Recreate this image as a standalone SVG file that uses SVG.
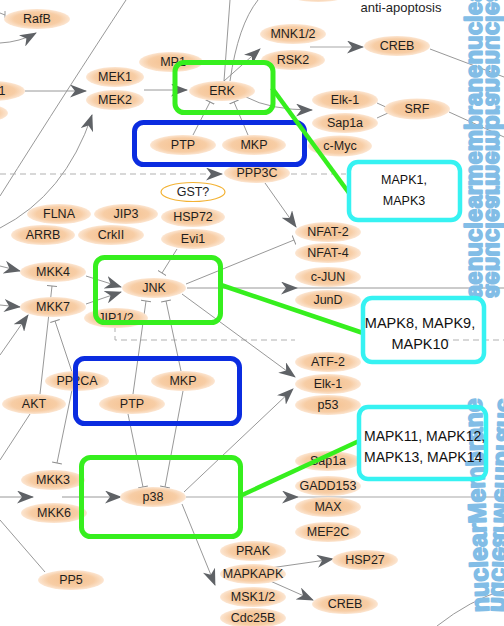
<svg xmlns="http://www.w3.org/2000/svg" width="504" height="626" viewBox="0 0 504 626">
<defs>
<radialGradient id="g" cx="50%" cy="50%" r="50%">
<stop offset="0" stop-color="#f4c08e"/>
<stop offset="0.7" stop-color="#f7cda5"/>
<stop offset="1" stop-color="#fce6d2"/>
</radialGradient>
<marker id="ar" markerUnits="userSpaceOnUse" markerWidth="17" markerHeight="13" viewBox="0 0 17 13" refX="16" refY="6.5" orient="auto">
<path d="M0,0 L17,6.5 L0,13 L5,6.5 Z" fill="#5f6266"/>
</marker>
<marker id="inh" markerUnits="userSpaceOnUse" markerWidth="3" markerHeight="10" viewBox="0 0 3 10" refX="1.5" refY="5" orient="auto">
<path d="M1.5,0 V10" stroke="#8c8c8c" stroke-width="1"/>
</marker>
</defs>
<style>
.n ellipse{fill:url(#g);}
.n text,.lbl{font-family:"Liberation Sans",Arial,sans-serif;font-size:12.5px;fill:#1e1e1e;text-anchor:middle;dominant-baseline:central;}
.c{fill:none;stroke:#8c8c8c;stroke-width:0.9;}
.a{marker-end:url(#ar);}
.i{marker-end:url(#inh);}
.d{stroke-dasharray:6 4;stroke:#a8a8a8;}
.gb{fill:none;stroke:#36ef1e;stroke-width:5;}
.bb{fill:none;stroke:#0b2ce0;stroke-width:5;}
.cb{fill:none;stroke:#36f2f2;stroke-width:4.5;}
.gl{stroke:#36ef1e;stroke-width:4.5;fill:none;}
.ct{font-family:"Liberation Sans",Arial,sans-serif;fill:#111;dominant-baseline:central;}
.mem{font-family:"Liberation Sans",Arial,sans-serif;font-weight:bold;fill:#82bde6;stroke:#82bde6;stroke-width:1.6;stroke-linejoin:round;}
</style>

<g id="connectors">
<path class="c a" d="M0 43 Q20 42 36 33"/>
<path class="c" d="M0 13 L5 15 M5 11 V18"/>
<path class="c a" d="M25 91 H86"/>
<path class="c" d="M126 0 Q70 85 0 196"/>
<path class="c a" d="M0 228 Q65 195 92 115"/>
<path class="c a" d="M144 90 H187"/>
<path class="c a" d="M224 81 L260 49"/>
<path class="c" d="M224 81 L230 0"/>
<path class="c" d="M230 81 Q238 25 258 0"/>
<path class="c a" d="M310 47 H363" style="stroke:#c4c4c4;stroke-width:1.5"/>
<path class="c a" d="M246 97 Q270 110 312 110"/>
<path class="c" d="M377 103 L388 108 M377 118 L388 113"/>
<path class="c" d="M430 49 L504 77"/>
<path class="c" d="M449 112 L504 137"/>
<path class="c i" d="M193 135 L210 102"/>
<path class="c i" d="M248 135 L234 102"/>
<path class="c d a" d="M0 174 H222"/>
<path class="c d" d="M291 174 H346"/>
<path class="c d" d="M115 326 V340 H295 M443 340 H504"/>
<path class="c a" d="M265 183 L296 227"/>
<path class="c a" d="M0 266 L20 271"/>
<path class="c a" d="M0 305 L20 307"/>
<path class="c a" d="M0 355 L28 315"/>
<path class="c a" d="M86 276 L121 287"/>
<path class="c a" d="M86 304 L121 292"/>
<path class="c i" d="M177 249 L162 273"/>
<path class="c i" d="M186 284 L294 240"/>
<path class="c a" d="M187 288 H297"/>
<path class="c" d="M297 288 H504"/>
<path class="c a" d="M182 294 L295 377"/>
<path class="c i" d="M40 394 L52 286"/>
<path class="c i" d="M72 372 L55 321"/>
<path class="c i" d="M72 390 L57 463"/>
<path class="c i" d="M133 394 L146 301"/>
<path class="c i" d="M181 371 L166 301"/>
<path class="c i" d="M128 414 L143 487"/>
<path class="c i" d="M183 391 L165 487"/>
<path class="c" d="M30 414 L0 460"/>
<path class="c" d="M0 520 L45 572"/>
<path class="c a" d="M0 497 H33"/>
<path class="c a" d="M62 497 H121"/>
<path class="c a" d="M184 492 L293 389"/>
<path class="c a" d="M186 497 H298" style="stroke:#c4c4c4;stroke-width:1.5"/>
<path class="c" d="M298 497 H504" style="stroke:#c4c4c4;stroke-width:1.5"/>
<path class="c a" d="M182 504 L215 585"/>
<path class="c a" d="M270 568 L333 559"/>
<path class="c a" d="M268 580 L313 600"/>
<path class="c" d="M437 626 Q470 600 504 590"/>
</g>

<g id="n-top" class="n"><ellipse cx="318" cy="-8" rx="33" ry="10"/></g>
<g id="n-RafB" class="n"><ellipse cx="37" cy="19" rx="33" ry="10"/><text x="37" y="19">RafB</text></g>
<g id="n-Raf1" class="n"><ellipse cx="-8" cy="91" rx="33" ry="10"/><text x="2" y="91">1</text></g>
<g id="n-left2" class="n"><ellipse cx="-24" cy="113" rx="32" ry="10"/></g>
<g id="n-MEK1" class="n"><ellipse cx="115" cy="77" rx="29" ry="10"/><text x="115" y="77">MEK1</text></g>
<g id="n-MEK2" class="n"><ellipse cx="115" cy="100" rx="29" ry="10"/><text x="115" y="100">MEK2</text></g>
<g id="n-MP1" class="n"><ellipse cx="171" cy="62" rx="32" ry="10"/><text x="173" y="62">MP1</text></g>
<g id="n-ERK" class="n"><ellipse cx="222" cy="91" rx="33" ry="10"/><text x="222" y="91">ERK</text></g>
<g id="n-PTP1" class="n"><ellipse cx="183" cy="145" rx="33" ry="10"/><text x="183" y="145">PTP</text></g>
<g id="n-MKP1" class="n"><ellipse cx="254" cy="145" rx="32" ry="10"/><text x="254" y="145">MKP</text></g>
<g id="n-PPP3C" class="n"><ellipse cx="257" cy="173" rx="33" ry="10"/><text x="257" y="173">PPP3C</text></g>
<g id="n-GST" class="n"><ellipse cx="193" cy="192" rx="32" ry="9.5" style="fill:#fff;stroke:#f3b233;stroke-width:1.2"/><text x="193" y="192">GST?</text></g>
<g id="n-HSP72" class="n"><ellipse cx="193" cy="217" rx="32" ry="10"/><text x="193" y="217">HSP72</text></g>
<g id="n-Evi1" class="n"><ellipse cx="193" cy="239" rx="32" ry="10"/><text x="193" y="239">Evi1</text></g>
<g id="n-FLNA" class="n"><ellipse cx="59" cy="214" rx="32" ry="10"/><text x="59" y="214">FLNA</text></g>
<g id="n-JIP3" class="n"><ellipse cx="126" cy="214" rx="32" ry="10"/><text x="126" y="214">JIP3</text></g>
<g id="n-ARRB" class="n"><ellipse cx="43" cy="235" rx="32" ry="10"/><text x="43" y="235">ARRB</text></g>
<g id="n-CrkII" class="n"><ellipse cx="111" cy="235" rx="33" ry="10"/><text x="111" y="235">CrkII</text></g>
<g id="n-MKK4" class="n"><ellipse cx="53" cy="272" rx="33" ry="10"/><text x="53" y="272">MKK4</text></g>
<g id="n-MKK7" class="n"><ellipse cx="53" cy="307" rx="33" ry="10"/><text x="53" y="307">MKK7</text></g>
<g id="n-JNK" class="n"><ellipse cx="154" cy="288" rx="32" ry="10"/><text x="154" y="288">JNK</text></g>
<g id="n-JIP12" class="n"><ellipse cx="116" cy="318" rx="32" ry="10"/><text x="116" y="318">JIP1/2</text></g>
<g id="n-PP2CA" class="n"><ellipse cx="77" cy="381" rx="32" ry="10"/><text x="77" y="381">PP2CA</text></g>
<g id="n-MKP2" class="n"><ellipse cx="183" cy="381" rx="32" ry="10"/><text x="183" y="381">MKP</text></g>
<g id="n-PTP2" class="n"><ellipse cx="132" cy="404" rx="33" ry="10"/><text x="132" y="404">PTP</text></g>
<g id="n-AKT" class="n"><ellipse cx="34" cy="404" rx="32" ry="10"/><text x="34" y="404">AKT</text></g>
<g id="n-MKK3" class="n"><ellipse cx="53" cy="480" rx="32" ry="10"/><text x="53" y="480">MKK3</text></g>
<g id="n-MKK6" class="n"><ellipse cx="54" cy="513" rx="33" ry="10"/><text x="54" y="513">MKK6</text></g>
<g id="n-p38" class="n"><ellipse cx="153" cy="497" rx="33" ry="10"/><text x="153" y="497">p38</text></g>
<g id="n-PP5" class="n"><ellipse cx="71" cy="580" rx="33" ry="10"/><text x="71" y="580">PP5</text></g>
<g id="n-MNK12" class="n"><ellipse cx="293" cy="34" rx="33" ry="10"/><text x="293" y="34">MNK1/2</text></g>
<g id="n-RSK2" class="n"><ellipse cx="293" cy="60" rx="32" ry="10"/><text x="293" y="60">RSK2</text></g>
<g id="n-CREB1" class="n"><ellipse cx="397" cy="46" rx="33" ry="10"/><text x="397" y="46">CREB</text></g>
<g id="n-Elk1a" class="n"><ellipse cx="345" cy="100" rx="33" ry="10"/><text x="345" y="100">Elk-1</text></g>
<g id="n-Sap1a1" class="n"><ellipse cx="345" cy="123" rx="33" ry="10"/><text x="345" y="123">Sap1a</text></g>
<g id="n-SRF" class="n"><ellipse cx="417" cy="109" rx="33" ry="10.5"/><text x="417" y="109">SRF</text></g>
<g id="n-cMyc" class="n"><ellipse cx="340" cy="146" rx="32" ry="10.5"/><text x="340" y="146">c-Myc</text></g>
<g id="n-NFAT2" class="n"><ellipse cx="328" cy="232" rx="33" ry="10"/><text x="328" y="232">NFAT-2</text></g>
<g id="n-NFAT4" class="n"><ellipse cx="328" cy="253" rx="33" ry="10"/><text x="328" y="253">NFAT-4</text></g>
<g id="n-cJUN" class="n"><ellipse cx="328" cy="277" rx="33" ry="10"/><text x="328" y="277">c-JUN</text></g>
<g id="n-JunD" class="n"><ellipse cx="328" cy="300" rx="33" ry="10"/><text x="328" y="300">JunD</text></g>
<g id="n-ATF2" class="n"><ellipse cx="328" cy="362" rx="33" ry="10"/><text x="328" y="362">ATF-2</text></g>
<g id="n-Elk1b" class="n"><ellipse cx="328" cy="384" rx="33" ry="10"/><text x="328" y="384">Elk-1</text></g>
<g id="n-p53" class="n"><ellipse cx="328" cy="405" rx="33" ry="10"/><text x="328" y="405">p53</text></g>
<g id="n-Sap1a2" class="n"><ellipse cx="328" cy="461" rx="33" ry="10"/><text x="328" y="461">Sap1a</text></g>
<g id="n-GADD153" class="n"><ellipse cx="328" cy="486" rx="33" ry="10"/><text x="328" y="486">GADD153</text></g>
<g id="n-MAX" class="n"><ellipse cx="328" cy="507" rx="33" ry="10"/><text x="328" y="507">MAX</text></g>
<g id="n-MEF2C" class="n"><ellipse cx="328" cy="532" rx="33" ry="10"/><text x="328" y="532">MEF2C</text></g>
<g id="n-HSP27" class="n"><ellipse cx="365" cy="560" rx="33" ry="10"/><text x="365" y="560">HSP27</text></g>
<g id="n-CREB2" class="n"><ellipse cx="345" cy="604" rx="33" ry="10"/><text x="345" y="604">CREB</text></g>
<g id="n-PRAK" class="n"><ellipse cx="253" cy="551" rx="33" ry="10"/><text x="253" y="551">PRAK</text></g>
<g id="n-MAPKAPK" class="n"><ellipse cx="253" cy="574" rx="33" ry="10"/><text x="253" y="574">MAPKAPK</text></g>
<g id="n-MSK12" class="n"><ellipse cx="253" cy="597" rx="33" ry="10"/><text x="253" y="597">MSK1/2</text></g>
<g id="n-Cdc25B" class="n"><ellipse cx="253" cy="618" rx="33" ry="10"/><text x="253" y="618">Cdc25B</text></g>

<text class="lbl" x="401" y="7" style="font-size:13px">anti-apoptosis</text>

<g id="membrane" class="mem">
<text font-size="24" transform="translate(482,298) rotate(-90)">aenuclearmembranenuclea</text>
<text font-size="24" transform="matrix(-1,0,0,1,968,0) translate(482,298) rotate(-90)">aenuclearmembranenuclea</text>
<text font-size="25" transform="translate(489,612) rotate(-92)">nuclearMembrane</text>
<text font-size="25" transform="matrix(-1,0,0,1,980,0) translate(489,612) rotate(-92)">nuclearMembrane</text>
</g>

<g id="boxes">
<rect class="gb" x="175" y="62.5" width="98" height="50" rx="9"/>
<rect class="bb" x="134.5" y="122.5" width="170" height="42" rx="9"/>
<rect class="gb" x="95.5" y="257.5" width="125" height="65" rx="9"/>
<rect class="bb" x="75.5" y="358.5" width="164" height="65" rx="9"/>
<rect class="gb" x="81.5" y="457.5" width="159" height="79" rx="9"/>
</g>

<g id="callouts">
<path class="gl" d="M272 88 L349 193"/>
<path class="gl" d="M221 285 L363 333"/>
<path class="gl" d="M240 496 L359 441"/>
</g>

<g id="box-MAPK1">
<rect class="cb" x="349" y="162" width="111" height="58" rx="9"/>
<text class="ct" x="404" y="180" font-size="12.5" text-anchor="middle">MAPK1,</text>
<text class="ct" x="404" y="201" font-size="12.5" text-anchor="middle">MAPK3</text>
</g>
<g id="box-MAPK8">
<rect class="cb" x="363" y="298" width="121" height="64" rx="9"/>
<text class="ct" x="420" y="323" font-size="14.5" text-anchor="middle">MAPK8, MAPK9,</text>
<text class="ct" x="420" y="344" font-size="14.5" text-anchor="middle">MAPK10</text>
</g>
<g id="box-MAPK11">
<rect class="cb" x="359" y="407" width="127" height="72" rx="9"/>
<text class="ct" x="364" y="436" font-size="14">MAPK11, MAPK12,</text>
<text class="ct" x="364" y="457" font-size="14">MAPK13, MAPK14</text>
</g>
</svg>
